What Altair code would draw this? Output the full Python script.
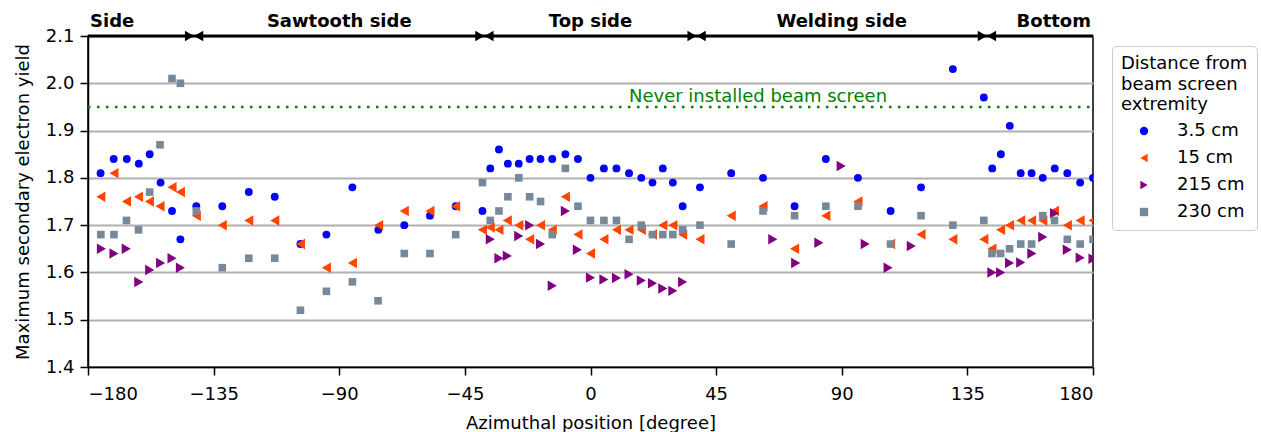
import altair as alt
import pandas as pd

FONT = "DejaVu Sans"

series_names = ["3.5 cm", "15 cm", "215 cm", "230 cm"]
series_colors = ["#0000ff", "#ff4500", "#800080", "#778899"]
series_shapes = ["circle", "triangle-left", "triangle-right", "square"]
series_sizes = [62, 110, 110, 58]

x_35 = [-175.5, -170.8, -166.1, -161.8, -157.9, -154.0, -149.9, -146.9, -141.2, -131.9,
        -122.4, -113.1, -103.9, -94.6, -85.3, -76.0, -66.7, -57.5, -48.3, -38.7,
        -35.9, -32.8, -29.6, -25.7, -21.8, -17.9, -13.7, -9.0, -4.5, 0.0,
        4.8, 9.3, 13.8, 18.2, 22.2, 25.9, 29.5, 33.0, 39.2, 50.4,
        61.8, 73.1, 84.3, 95.8, 107.5, 118.4, 129.8, 140.9, 143.9, 147.0,
        150.2, 154.1, 158.0, 162.0, 166.3, 170.8, 175.4, 180.0]
y_35 = [1.81, 1.84, 1.84, 1.83, 1.85, 1.79, 1.73, 1.67, 1.74, 1.74,
        1.77, 1.76, 1.66, 1.68, 1.78, 1.69, 1.70, 1.72, 1.74, 1.73,
        1.82, 1.86, 1.83, 1.83, 1.84, 1.84, 1.84, 1.85, 1.84, 1.80,
        1.82, 1.82, 1.81, 1.80, 1.79, 1.82, 1.79, 1.74, 1.78, 1.81,
        1.80, 1.74, 1.84, 1.80, 1.73, 1.78, 2.03, 1.97, 1.82, 1.85,
        1.91, 1.81, 1.81, 1.80, 1.82, 1.81, 1.79, 1.80]

x_15 = [-175.4, -170.7, -166.2, -161.9, -158.0, -154.2, -149.9, -146.9, -141.2, -131.9,
        -122.4, -113.1, -103.9, -94.6, -85.3, -75.9, -66.7, -57.5, -48.3, -38.7,
        -35.9, -32.8, -29.8, -25.7, -21.8, -17.9, -13.7, -9.0, -4.5, 0.0,
        4.8, 9.3, 13.8, 18.2, 22.2, 25.9, 29.5, 33.0, 39.2, 50.4,
        61.8, 73.1, 84.3, 95.8, 107.5, 118.4, 129.8, 140.9, 143.8, 146.9,
        150.1, 154.1, 158.0, 162.0, 166.2, 170.8, 175.4, 180.0]
y_15 = [1.76, 1.81, 1.75, 1.76, 1.75, 1.74, 1.78, 1.77, 1.72, 1.70,
        1.71, 1.71, 1.66, 1.61, 1.62, 1.70, 1.73, 1.73, 1.74, 1.69,
        1.695, 1.69, 1.71, 1.70, 1.67, 1.70, 1.69, 1.76, 1.68, 1.64,
        1.67, 1.69, 1.69, 1.69, 1.68, 1.70, 1.70, 1.68, 1.67, 1.72,
        1.74, 1.65, 1.72, 1.75, 1.66, 1.68, 1.67, 1.67, 1.65, 1.69,
        1.70, 1.71, 1.71, 1.71, 1.73, 1.70, 1.71, 1.71]

x_215 = [-175.2, -170.7, -166.3, -161.8, -157.9, -154.0, -149.9, -146.9,
         -35.9, -32.8, -29.8, -25.7, -21.8, -17.9, -13.7, -9.0, -4.7, 0.0,
         4.8, 9.3, 13.8, 18.2, 22.2, 25.9, 29.5, 33.0,
         65.3, 73.5, 81.8, 89.8, 98.4, 106.6, 114.9,
         143.8, 146.9, 150.1, 154.1, 158.1, 162.0, 166.2, 170.8, 175.4, 180.0]
y_215 = [1.65, 1.64, 1.65, 1.58, 1.605, 1.62, 1.63, 1.61,
         1.67, 1.63, 1.635, 1.677, 1.70, 1.66, 1.572, 1.73, 1.648, 1.589,
         1.585, 1.588, 1.596, 1.583, 1.577, 1.566, 1.561, 1.580,
         1.67, 1.62, 1.663, 1.825, 1.66, 1.61, 1.656,
         1.60, 1.60, 1.62, 1.621, 1.64, 1.675, 1.725, 1.648, 1.631, 1.629]

x_230 = [-175.4, -170.7, -166.2, -161.9, -157.9, -154.2, -149.9, -146.9, -141.2, -131.9,
         -122.4, -113.1, -103.9, -94.6, -85.3, -76.1, -66.7, -57.5, -48.3, -38.7,
         -35.9, -32.8, -29.6, -25.7, -21.8, -17.9, -13.7, -9.0, -4.5, 0.0,
         4.8, 9.3, 13.8, 18.2, 22.2, 25.9, 29.5, 33.0, 39.2, 50.4,
         61.8, 73.1, 84.3, 95.8, 107.5, 118.4, 129.8, 140.9, 143.8, 146.9,
         150.1, 154.1, 158.0, 162.0, 166.2, 170.8, 175.4, 180.0]
y_230 = [1.68, 1.68, 1.71, 1.69, 1.77, 1.87, 2.01, 2.00, 1.73, 1.61,
         1.63, 1.63, 1.52, 1.56, 1.58, 1.54, 1.64, 1.64, 1.68, 1.79,
         1.71, 1.73, 1.76, 1.80, 1.76, 1.75, 1.68, 1.82, 1.74, 1.71,
         1.71, 1.71, 1.67, 1.70, 1.68, 1.68, 1.68, 1.69, 1.70, 1.66,
         1.73, 1.72, 1.74, 1.74, 1.66, 1.72, 1.70, 1.71, 1.64, 1.64,
         1.65, 1.66, 1.66, 1.72, 1.71, 1.67, 1.66, 1.67]

region_bounds = [-142, -38, 38, 142]
region_labels = ["Side", "Sawtooth side", "Top side", "Welding side", "Bottom"]
region_label_x = [-180, -90, 0, 90, 180]
region_label_align = ["left", "center", "center", "center", "right"]

reference_sey = 1.95
reference_label = "Never installed beam screen"
reference_label_x = 60

x_ticks = [-180, -135, -90, -45, 0, 45, 90, 135, 180]
y_ticks = [1.4, 1.5, 1.6, 1.7, 1.8, 1.9, 2.0, 2.1]
x_min, x_max = -180, 180
y_min, y_max = 1.4, 2.1

rows = []
for i, (name, xs, ys) in enumerate(zip(series_names, [x_35, x_15, x_215, x_230],
                                       [y_35, y_15, y_215, y_230])):
    for a, v in zip(xs, ys):
        rows.append({"angle": a, "sey": v, "series": name, "msize": series_sizes[i]})
df = pd.DataFrame(rows)

W, H = 1005, 331

xscale = alt.Scale(domain=[x_min, x_max], nice=False, zero=False)
yscale = alt.Scale(domain=[y_min, y_max], nice=False, zero=False)

xenc = alt.X("angle:Q", scale=xscale,
             axis=alt.Axis(values=x_ticks, format="d", title="Azimuthal position [degree]",
                           grid=False, tickSize=8, labelPadding=10, titlePadding=11))
yenc = alt.Y("sey:Q", scale=yscale,
             axis=alt.Axis(values=y_ticks, format=".1f", title="Maximum secondary electron yield",
                           grid=True, gridColor="#b0b0b0", gridWidth=2, tickSize=8,
                           labelPadding=6, titlePadding=13))

legend_title = ["Distance from", "beam screen", "extremity"]

points = alt.Chart(df).mark_point(filled=True, opacity=1, clip=True).encode(
    x=xenc,
    y=yenc,
    color=alt.Color("series:N", sort=series_names,
                    scale=alt.Scale(domain=series_names, range=series_colors),
                    legend=alt.Legend(title=legend_title, orient="none", legendX=1024, legendY=10)),
    shape=alt.Shape("series:N", sort=series_names,
                    scale=alt.Scale(domain=series_names, range=series_shapes),
                    legend=alt.Legend(title=legend_title, orient="none", legendX=1024, legendY=10)),
    size=alt.Size("msize:Q", scale=None, legend=None),
)

ref_df = pd.DataFrame({"x1": [x_min], "x2": [x_max], "y": [reference_sey]})
ref_line = alt.Chart(ref_df).mark_rule(color="#008000", strokeWidth=2.5, strokeDash=[2.5, 6.5]).encode(
    x=alt.X("x1:Q", scale=xscale), x2="x2:Q", y=alt.Y("y:Q", scale=yscale))
ref_text = alt.Chart(pd.DataFrame({"x": [reference_label_x], "y": [reference_sey], "t": [reference_label]})).mark_text(
    color="#008000", font=FONT, fontSize=18, align="center", baseline="alphabetic", dy=-5).encode(
    x=alt.X("x:Q", scale=xscale), y=alt.Y("y:Q", scale=yscale), text="t:N")

top_df = pd.DataFrame({"x1": [x_min], "x2": [x_max], "y": [y_max]})
top_line = alt.Chart(top_df).mark_rule(color="black", strokeWidth=3, clip=False).encode(
    x=alt.X("x1:Q", scale=xscale), x2="x2:Q", y=alt.Y("y:Q", scale=yscale))

b_df = pd.DataFrame({"x": region_bounds, "y": [y_max] * len(region_bounds)})
head_r = alt.Chart(b_df).mark_point(shape="triangle-right", filled=True, opacity=1, color="black",
                                    size=110, xOffset=-4.6, clip=False).encode(
    x=alt.X("x:Q", scale=xscale), y=alt.Y("y:Q", scale=yscale))
head_l = alt.Chart(b_df).mark_point(shape="triangle-left", filled=True, opacity=1, color="black",
                                    size=110, xOffset=4.6, clip=False).encode(
    x=alt.X("x:Q", scale=xscale), y=alt.Y("y:Q", scale=yscale))

lab_df = pd.DataFrame({"x": region_label_x, "t": region_labels, "align": region_label_align,
                       "y": [y_max] * len(region_labels)})
label_layers = []
for al in ["left", "center", "right"]:
    label_layers.append(
        alt.Chart(lab_df).transform_filter(alt.datum.align == al).mark_text(
            font=FONT, fontSize=18, fontWeight="bold", align=al, baseline="alphabetic",
            dy=-9, dx=(2 if al == "left" else (-2 if al == "right" else 0)), color="black", clip=False
        ).encode(x=alt.X("x:Q", scale=xscale), y=alt.Y("y:Q", scale=yscale), text="t:N")
    )

chart = alt.layer(points, ref_line, ref_text, top_line, head_r, head_l, *label_layers).properties(
    width=W, height=H,
    autosize=alt.AutoSizeParams(type="none"),
    padding={"left": 88, "top": 36, "right": 1261 - 88 - W, "bottom": 432 - 36 - H},
).configure_view(stroke="black", strokeWidth=1.5).configure_axis(
    labelFont=FONT, titleFont=FONT, labelFontSize=18, titleFontSize=18,
    titleFontWeight="normal", labelColor="black", titleColor="black",
    tickColor="black", domainColor="black", tickWidth=1.5, domainWidth=1.5,
).configure_legend(
    titleFont=FONT, labelFont=FONT, titleFontSize=18, labelFontSize=18,
    titleFontWeight="normal", titleColor="black", labelColor="black",
    titleLineHeight=20.5, strokeColor="#cccccc", fillColor="white", cornerRadius=4,
    padding=9, symbolSize=70, symbolOffset=14, labelOffset=24, rowPadding=9,
    titlePadding=8, symbolStrokeWidth=0,
)

chart.save("out.html", embed_options={"renderer": "svg", "actions": False})
